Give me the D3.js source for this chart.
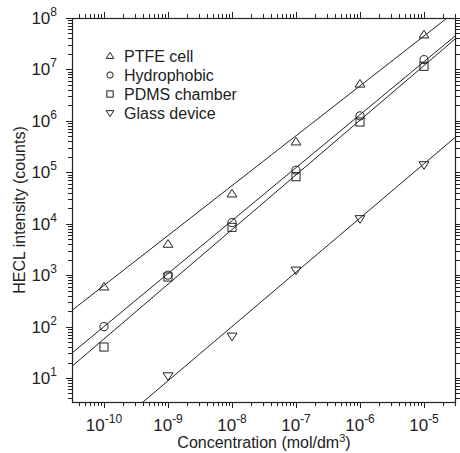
<!DOCTYPE html>
<html lang="en">
<head>
  <meta charset="UTF-8">
  <title>HECL intensity vs concentration</title>
  <script src="https://d3js.org/d3.v7.min.js"></script>
  <style>
    body { margin: 0; background: #fff; }
    svg { font-family: "Liberation Sans", Arial, sans-serif; }
    .tick-label { font-size: 17px; fill: #222; }
    .axis-title { font-size: 16px; fill: #222; }
    .legend text { font-size: 16px; fill: #222; }
  </style>
</head>
<body>
<div id="chart"></div>
<script>
  // concentrations (mol/dm3) and measured HECL intensities
  const series = ["PTFE cell", "Hydrophobic", "PDMS chamber", "Glass device"];
  const symbols = ["triUp", "circle", "square", "triDown"];
  const concentration = [1e-10, 1e-9, 1e-8, 1e-7, 1e-6, 1e-5];
  const ptfe = [590, 4000, 38000, 390000, 5200000, 47000000];
  const hydrophobic = [100, 1000, 10500, 110000, 1250000, 15500000];
  const pdms = [40, 920, 8500, 82000, 950000, 11500000];
  const glass = [null, 11, 65, 1250, 12500, 140000];
  // linear fits in log-log space: log10(I) = intercept + slope * (log10(c) + 10)
  const fitIntercept = [2.8, 2.0, 1.76, -0.11];
  const fitSlope = [0.97, 1.03, 1.063, 1.055];

  const xTicks = [1e-10, 1e-9, 1e-8, 1e-7, 1e-6, 1e-5];
  const xTickExp = ["-10", "-9", "-8", "-7", "-6", "-5"];
  const yTicks = [1e1, 1e2, 1e3, 1e4, 1e5, 1e6, 1e7, 1e8];
  const yTickExp = ["1", "2", "3", "4", "5", "6", "7", "8"];

  const values = [ptfe, hydrophobic, pdms, glass];

  const W = 460, H = 453;
  const margin = { top: 18, right: 4, bottom: 51, left: 72 };

  const svg = d3.select("#chart").append("svg")
    .attr("width", W).attr("height", H);

  const x = d3.scaleLog()
    .domain([Math.pow(10, -10.5), Math.pow(10, -4.5)])
    .range([margin.left, W - margin.right]);
  const y = d3.scaleLog()
    .domain([Math.pow(10, 0.533), 1e8])
    .range([H - margin.bottom, margin.top]);

  const x0 = margin.left, x1 = W - margin.right;
  const y0 = H - margin.bottom, y1 = margin.top;

  // clip for the fit lines
  svg.append("clipPath").attr("id", "plot-clip")
    .append("rect").attr("x", x0).attr("y", y1)
    .attr("width", x1 - x0).attr("height", y0 - y1);

  // minor + major ticks (outward on all four sides)
  const ax = svg.append("g").attr("stroke", "#222").attr("stroke-width", 1);
  function minorTicks(domain) {
    const out = [];
    const lo = Math.floor(Math.log10(domain[0])), hi = Math.ceil(Math.log10(domain[1]));
    for (let e = lo; e <= hi; e++) {
      for (let m = 1; m < 10; m++) {
        const v = m * Math.pow(10, e);
        if (v >= domain[0] && v <= domain[1]) out.push({ v, major: m === 1 });
      }
    }
    return out;
  }
  minorTicks(x.domain()).forEach(t => {
    const px = Math.round(x(t.v)) + 0.5, len = t.major ? 6 : 4;
    ax.append("line").attr("x1", px).attr("x2", px).attr("y1", y0).attr("y2", y0 + len);
    ax.append("line").attr("x1", px).attr("x2", px).attr("y1", y1).attr("y2", y1 - len);
  });
  minorTicks(y.domain()).forEach(t => {
    const py = Math.round(y(t.v)) + 0.5, len = t.major ? 6 : 4;
    ax.append("line").attr("x1", x0).attr("x2", x0 - len).attr("y1", py).attr("y2", py);
    ax.append("line").attr("x1", x1).attr("x2", x1 + len).attr("y1", py).attr("y2", py);
  });

  // frame
  svg.append("rect")
    .attr("x", x0 + 0.5).attr("y", y1 + 0.5)
    .attr("width", x1 - x0 - 1).attr("height", y0 - y1)
    .attr("fill", "none").attr("stroke", "#222").attr("stroke-width", 1.2);

  // tick labels with superscript exponents
  xTicks.forEach((v, i) => {
    const t = svg.append("text").attr("class", "tick-label")
      .attr("x", x(v)).attr("y", 431).attr("text-anchor", "middle");
    t.append("tspan").text("10");
    t.append("tspan").attr("dy", -8).attr("font-size", 12).text(xTickExp[i]);
  });
  yTicks.forEach((v, i) => {
    const t = svg.append("text").attr("class", "tick-label")
      .attr("x", 57).attr("y", y(v) + 6).attr("text-anchor", "end");
    t.append("tspan").text("10");
    t.append("tspan").attr("dy", -8).attr("font-size", 12).text(yTickExp[i]);
  });

  // axis titles
  const xt = svg.append("text").attr("class", "axis-title")
    .attr("x", (x0 + x1) / 2).attr("y", 448).attr("text-anchor", "middle");
  xt.append("tspan").text("Concentration (mol/dm");
  xt.append("tspan").attr("dy", -6).attr("font-size", 11).text("3");
  xt.append("tspan").attr("dy", 6).text(")");

  svg.append("text").attr("class", "axis-title")
    .attr("transform", `translate(25,${(y0 + y1) / 2}) rotate(-90)`)
    .attr("text-anchor", "middle")
    .text("HECL intensity (counts)");

  // fit lines
  const lines = svg.append("g").attr("clip-path", "url(#plot-clip)");
  const lx = [Math.pow(10, -10.6), Math.pow(10, -4.4)];
  series.forEach((s, i) => {
    const pts = lx.map(c => [c, Math.pow(10, fitIntercept[i] + fitSlope[i] * (Math.log10(c) + 10))]);
    lines.append("path")
      .attr("d", d3.line().x(d => x(d[0])).y(d => y(d[1]))(pts))
      .attr("fill", "none").attr("stroke", "#222").attr("stroke-width", 1);
  });

  // marker drawing
  function marker(g, type, cx, cy, s) {
    if (type === "circle") {
      g.append("circle").attr("cx", cx).attr("cy", cy).attr("r", s * 0.45);
    } else if (type === "square") {
      g.append("rect").attr("x", cx - s * 0.45).attr("y", cy - s * 0.45)
        .attr("width", s * 0.9).attr("height", s * 0.9);
    } else {
      const h = s * 0.85, w = s * 0.55, dir = type === "triUp" ? 1 : -1;
      g.append("path").attr("d",
        `M${cx},${cy - dir * h * 0.6}L${cx + w},${cy + dir * h * 0.4}L${cx - w},${cy + dir * h * 0.4}Z`);
    }
  }

  const pts = svg.append("g").attr("fill", "none").attr("stroke", "#222").attr("stroke-width", 1);
  values.forEach((vals, i) => {
    vals.forEach((v, j) => {
      if (v == null) return;
      marker(pts, symbols[i], x(concentration[j]), y(v), 9);
    });
  });

  // legend
  const legend = svg.append("g").attr("class", "legend");
  const lg = legend.append("g").attr("fill", "none").attr("stroke", "#222").attr("stroke-width", 1);
  series.forEach((s, i) => {
    const cy = 56 + i * 19;
    marker(lg, symbols[i], 110, cy, 7);
    legend.append("text").attr("x", 124).attr("y", cy + 6).text(s);
  });
</script>
</body>
</html>
